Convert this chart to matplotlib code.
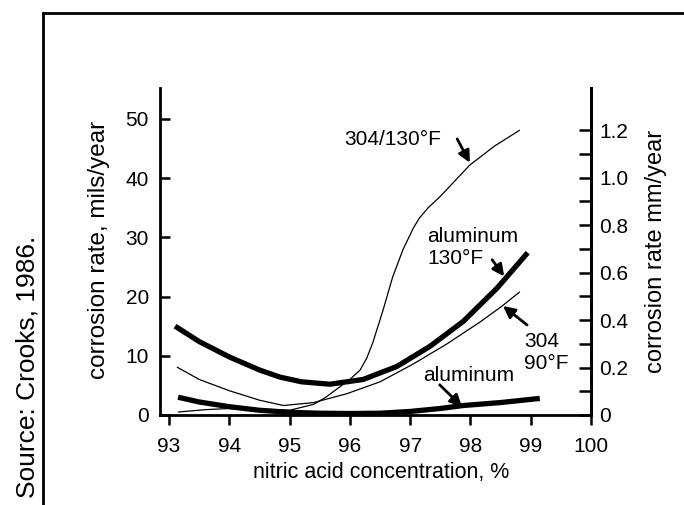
import matplotlib.pyplot as plt
from matplotlib.lines import Line2D

plt.rcParams['font.family'] = ['Liberation Sans', 'DejaVu Sans']

# nitric acid concentration (%) and corrosion rate (mils/year)
ss304_130_x = [93.15, 93.6, 94.0, 94.5, 95.0, 95.4, 95.6, 95.84, 96.0, 96.17, 96.28, 96.38, 96.55,
               96.71, 96.88, 97.05, 97.15, 97.3, 97.49, 97.75, 97.99, 98.4, 98.82]
ss304_130_y = [0.5, 0.9, 1.1, 1.0, 0.8, 1.8, 3.0, 4.8, 6.0, 7.6, 9.6, 12.2, 17.7,
               23.3, 27.9, 31.5, 33.2, 35.0, 36.8, 39.6, 42.2, 45.4, 48.1]

ss304_90_x = [93.13, 93.5, 94.0, 94.5, 94.9, 95.4, 95.95, 96.5, 97.05, 97.61, 98.16, 98.5, 98.82]
ss304_90_y = [8.1, 6.0, 4.1, 2.5, 1.6, 2.1, 3.6, 5.6, 8.6, 12.0, 15.7, 18.2, 20.8]

alu_130_x = [93.1, 93.5, 94.0, 94.5, 94.84, 95.2, 95.67, 96.22, 96.78, 97.33, 97.88, 98.44, 98.95]
alu_130_y = [15.0, 12.4, 9.8, 7.6, 6.4, 5.6, 5.2, 6.0, 8.2, 11.6, 15.8, 21.4, 27.4]

alu_90_x = [93.15, 93.5, 94.0, 94.5, 95.0, 95.5, 96.0, 96.5, 97.0, 97.5, 97.88, 98.5, 99.15]
alu_90_y = [3.0, 2.2, 1.4, 0.8, 0.45, 0.3, 0.25, 0.3, 0.6, 1.1, 1.6, 2.1, 2.8]

x_ticks = [93, 94, 95, 96, 97, 98, 99, 100]
mils_ticks = [0, 10, 20, 30, 40, 50]
mm_ticks = [0, 0.2, 0.4, 0.6, 0.8, 1.0, 1.2]
mm_labels = ['0', '0.2', '0.4', '0.6', '0.8', '1.0', '1.2']
mm_minor = [0.1, 0.3, 0.5, 0.7, 0.9, 1.1]

fig = plt.figure(figsize=(6.84, 5.05), dpi=100)
ax = fig.add_axes([160 / 684, 90 / 505, 431 / 684, 327 / 505])

thin = dict(color='black', lw=0.9, solid_capstyle='butt')
thick = dict(color='black', lw=3.8, solid_capstyle='butt')
ax.plot(ss304_130_x, ss304_130_y, **thin)
ax.plot(ss304_90_x, ss304_90_y, **thin)
ax.plot(alu_130_x, alu_130_y, **thick)
ax.plot(alu_90_x, alu_90_y, **thick)

ax.set_xlim(92.85, 100)
ax.set_ylim(0, 55.2)
ax.set_xticks(x_ticks)
ax.set_yticks(mils_ticks)
ax.tick_params(axis='x', direction='out', length=7.5, width=1.8, pad=8, labelsize=15)
ax.tick_params(axis='y', direction='in', length=7.5, width=1.8, pad=8, labelsize=15)
ax.spines['top'].set_visible(False)
for s in ['left', 'bottom', 'right']:
    ax.spines[s].set_linewidth(2)

ax.set_xlabel('nitric acid concentration, %', fontsize=15.5)
ax.xaxis.set_label_coords(0.513, -0.143)
ax.set_ylabel('corrosion rate, mils/year', fontsize=17.5)
ax.yaxis.set_label_coords(-0.115, 0.505)

# right axis in mm/year
ax2 = ax.twinx()
ax2.set_ylim(0, 1.377)
ax2.set_yticks(mm_ticks)
ax2.set_yticklabels(mm_labels)
ax2.set_yticks(mm_minor, minor=True)
ax2.tick_params(axis='y', which='both', direction='in', length=8.5, width=1.8, pad=6, labelsize=15)
ax2.spines['top'].set_visible(False)
ax2.spines['left'].set_visible(False)
ax2.spines['bottom'].set_visible(False)
ax2.spines['right'].set_linewidth(2)
ax2.set_ylabel('corrosion rate mm/year', fontsize=17)
ax2.yaxis.set_label_coords(1.125, 0.5)

# labels with arrows
arrow = dict(arrowstyle='-|>,head_length=0.7,head_width=0.35', color='black', lw=2,
             shrinkA=0, shrinkB=0)
ax.text(95.90, 46.5, '304/130°F', fontsize=15, ha='left', va='center')
ax.annotate('', xy=(97.99, 42.6), xytext=(97.78, 46.6), arrowprops=arrow)

ax.text(97.28, 28.3, 'aluminum\n130°F', fontsize=15, ha='left', va='center', linespacing=1.2)
ax.annotate('', xy=(98.56, 23.4), xytext=(98.36, 26.2), arrowprops=arrow)

ax.text(98.89, 10.5, '304\n90°F', fontsize=15, ha='left', va='center', linespacing=1.2)
ax.annotate('', xy=(98.54, 18.4), xytext=(98.94, 15.2), arrowprops=arrow)

ax.text(97.21, 6.6, 'aluminum', fontsize=15, ha='left', va='center')
ax.annotate('', xy=(97.86, 1.4), xytext=(97.49, 5.1), arrowprops=arrow)

# outer frame and source note
fig.add_artist(Line2D([43 / 684, 1.0], [1 - 13 / 505, 1 - 13 / 505], color='black', lw=2))
fig.add_artist(Line2D([43 / 684, 43 / 684], [0, 1 - 13 / 505], color='black', lw=2))
fig.text(28 / 684, 1 - 367 / 505, 'Source: Crooks, 1986.', fontsize=19, rotation=90,
         ha='center', va='center')

fig.savefig('out.png', dpi=100)
